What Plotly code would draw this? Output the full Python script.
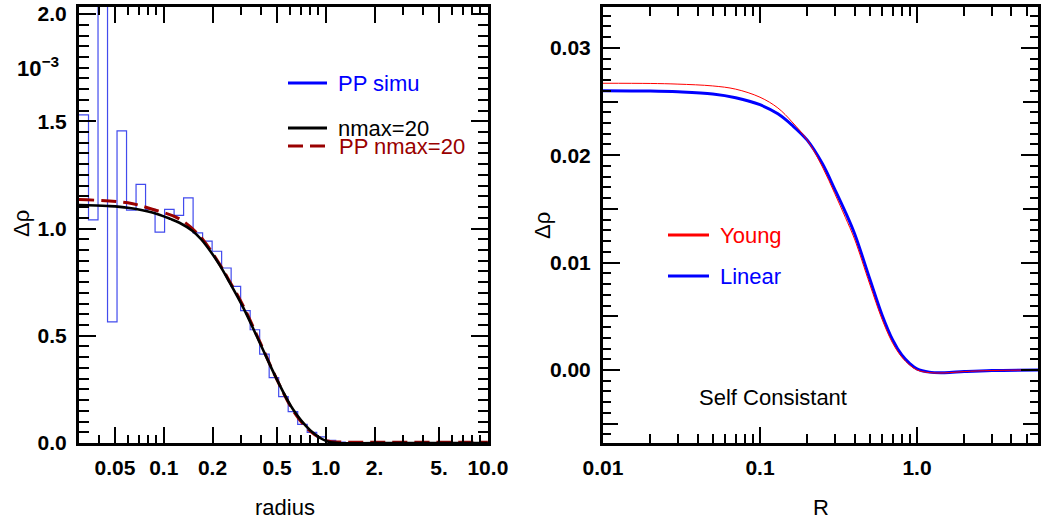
import numpy as np
import plotly.graph_objects as go

# ---------------- data : left panel (units of 1e-3) ----------------
hist_lo, hist_hi, hist_nbins = 0.03, 10.0, 43
hist_values = [1.53, 1.04, 2.6, 0.565, 1.455, 1.086, 1.206, 1.089, 0.983, 1.089,
               1.061, 1.143, 0.980, 0.941, 0.894, 0.816, 0.730, 0.617, 0.528, 0.414,
               0.305, 0.216, 0.146, 0.087, 0.050, 0.029, 0.012, 0.004,
               0.0, 0.0, 0.0, 0.0, 0.0, 0.0, 0.0, 0.0, 0.0, 0.0, 0.0, 0.0, 0.0, 0.0, 0.0]

nmax_r = [0.03, 0.045, 0.06, 0.085, 0.11, 0.125, 0.15, 0.17, 0.2, 0.222, 0.25, 0.31,
          0.39, 0.5, 0.63, 0.8, 1.0, 1.2, 2.0, 5.0, 10.0]
nmax_v = [1.110, 1.105, 1.097, 1.075, 1.045, 1.027, 0.990, 0.950, 0.880, 0.828, 0.760,
          0.630, 0.470, 0.295, 0.155, 0.060, 0.010, 0.0, 0.0, 0.0, 0.0]

ppn_r = [0.03, 0.06, 0.085, 0.125, 0.167, 0.222, 0.25, 0.31, 0.39, 0.5, 0.63, 0.8,
         1.0, 1.3, 2.0, 5.0, 10.0]
ppn_v = [1.135, 1.120, 1.090, 1.045, 0.965, 0.832, 0.765, 0.638, 0.475, 0.295, 0.150,
         0.055, 0.012, 0.004, 0.004, 0.004, 0.004]

# ---------------- data : right panel ----------------
R_vals = [0.01, 0.02, 0.03, 0.05, 0.07, 0.1, 0.13, 0.16, 0.2, 0.25, 0.3, 0.35, 0.4,
          0.5, 0.6, 0.7, 0.8, 0.9, 1.0, 1.2, 1.5, 2.0, 3.0, 6.0]
linear_v = [0.02600, 0.02597, 0.02590, 0.02570, 0.02535, 0.02470, 0.02385, 0.02280,
            0.02140, 0.01920, 0.01680, 0.01470, 0.01270, 0.00850, 0.00510, 0.00280,
            0.00140, 0.00060, 0.00010, -0.00020, -0.00025, -0.00015, -0.00005, 0.0]
young_v = [0.02670, 0.02668, 0.02662, 0.02645, 0.02615, 0.02540, 0.02440, 0.02310,
           0.02140, 0.01890, 0.01640, 0.01420, 0.01220, 0.00800, 0.00470, 0.00250,
           0.00120, 0.00045, 0.00000, -0.00025, -0.00027, -0.00015, -0.00005, 0.0]

# tick labels
left_xticks = [0.05, 0.1, 0.2, 0.5, 1.0, 2.0, 5.0, 10.0]
left_xtext = ["0.05", "0.1", "0.2", "0.5", "1.0", "2.", "5.", "10.0"]
left_yticks = [0.0, 0.5, 1.0, 1.5, 2.0]
left_ytext = ["0.0", "0.5", "1.0", "1.5", "2.0"]
right_xticks = [0.01, 0.1, 1.0]
right_xtext = ["0.01", "0.1", "1.0"]
right_yticks = [0.0, 0.01, 0.02, 0.03]
right_ytext = ["0.00", "0.01", "0.02", "0.03"]
right_ymid = [-0.005, 0.005, 0.015, 0.025]

# ---------------- figure ----------------
W, H = 1053, 523
FONT = "Liberation Sans, Arial, Helvetica, sans-serif"


def px(x):
    return x / W


def py(y):
    return 1 - y / H


edges = np.logspace(np.log10(hist_lo), np.log10(hist_hi), hist_nbins + 1)
hist_y = list(hist_values) + [hist_values[-1]]

fig = go.Figure()
fig.add_trace(go.Scatter(x=edges, y=hist_y, mode="lines", line_shape="hv",
                         line=dict(color="rgba(45,55,235,0.9)", width=1.2),
                         name="PP simu", xaxis="x", yaxis="y", showlegend=False))
fig.add_trace(go.Scatter(x=ppn_r, y=ppn_v, mode="lines", line_shape="spline",
                         line=dict(color="#990000", width=3, dash="15px,7px"),
                         name="PP nmax=20", xaxis="x", yaxis="y", showlegend=False))
fig.add_trace(go.Scatter(x=nmax_r, y=nmax_v, mode="lines", line_shape="spline",
                         line=dict(color="black", width=2.6),
                         name="nmax=20", xaxis="x", yaxis="y", showlegend=False))

fig.add_trace(go.Scatter(x=R_vals, y=linear_v, mode="lines", line_shape="spline",
                         line=dict(color="#0000ff", width=3),
                         name="Linear", xaxis="x2", yaxis="y2", showlegend=False))
fig.add_trace(go.Scatter(x=R_vals, y=young_v, mode="lines", line_shape="spline",
                         line=dict(color="#ff0000", width=1),
                         name="Young", xaxis="x2", yaxis="y2", showlegend=False))

ydom = [py(443), py(7)]
common = dict(showline=True, linecolor="black", linewidth=3, mirror="ticks",
              ticks="inside", tickcolor="black", tickwidth=2, showgrid=False,
              zeroline=False, automargin=False,
              tickfont=dict(family=FONT, size=21, color="black", weight="bold"))

left_xminor = [0.03, 0.04, 0.06, 0.07, 0.08, 0.09,
               0.3, 0.4, 0.6, 0.7, 0.8, 0.9,
               3, 4, 6, 7, 8, 9]
right_xminor = [0.02, 0.03, 0.04, 0.05, 0.06, 0.07, 0.08, 0.09,
                0.2, 0.3, 0.4, 0.5, 0.6, 0.7, 0.8, 0.9, 2, 3, 4, 5]
left_yminor = [round(0.05 * i, 3) for i in range(41) if i % 10 != 0]
right_yminor = [round(-0.006 + 0.001 * i, 4) for i in range(40) if (i - 6) % 5 != 0]

fig.update_layout(
    template="none",
    width=W, height=H, margin=dict(l=0, r=0, t=0, b=0, autoexpand=False),
    paper_bgcolor="white", plot_bgcolor="white", showlegend=False,
    font=dict(family=FONT, color="black"),
    xaxis=dict(common, type="log", domain=[px(79), px(488)],
               range=[np.log10(0.03), np.log10(10.0) + 0.0008],
               tickmode="array", tickvals=left_xticks, ticktext=left_xtext,
               ticklen=16, ticklabelstandoff=4,
               minor=dict(tickmode="array", tickvals=left_xminor, ticks="inside",
                          ticklen=8, tickwidth=1.5, tickcolor="black"),
               anchor="y"),
    yaxis=dict(common, domain=ydom, range=[0, 2.033],
               tickmode="array", tickvals=left_yticks, ticktext=left_ytext,
               ticklen=17, ticklabelstandoff=5,
               minor=dict(tickmode="array", tickvals=left_yminor, ticks="inside",
                          ticklen=10, tickwidth=1.5, tickcolor="black"),
               anchor="x"),
    xaxis2=dict(common, type="log", domain=[px(603), px(1038)],
                range=[-2.0, 0.771],
                tickmode="array", tickvals=right_xticks, ticktext=right_xtext,
                ticklen=16, ticklabelstandoff=4,
                minor=dict(tickmode="array", tickvals=right_xminor, ticks="inside",
                           ticklen=9, tickwidth=1.5, tickcolor="black"),
                anchor="y2"),
    yaxis2=dict(common, domain=ydom, range=[-0.0068, 0.0338],
                tickmode="array", tickvals=right_yticks, ticktext=right_ytext,
                ticklen=17, ticklabelstandoff=5,
                minor=dict(tickmode="array", tickvals=right_yminor, ticks="inside",
                           ticklen=8, tickwidth=1.5, tickcolor="black"),
                anchor="x2"),
    # overlay axis carrying only the medium (half-decade) ticks of the right y axis
    yaxis3=dict(overlaying="y2", domain=ydom, range=[-0.0068, 0.0338],
                showline=False, showgrid=False, zeroline=False, automargin=False,
                ticks="inside", ticklen=15, tickwidth=2, tickcolor="black",
                mirror="ticks", showticklabels=False, anchor="x2",
                tickmode="array", tickvals=right_ymid),
)
# invisible trace so the overlay axis is drawn
fig.add_trace(go.Scatter(x=[R_vals[0]], y=[linear_v[0]], mode="lines",
                         xaxis="x2", yaxis="y3", showlegend=False,
                         line=dict(width=0), hoverinfo="skip"))

ann = []


def text(x, y, s, size=22, color="black", xanchor="center", angle=0, bold=False):
    ann.append(dict(x=px(x), y=py(y), xref="paper", yref="paper", text=s,
                    showarrow=False, xanchor=xanchor, yanchor="middle",
                    textangle=angle,
                    font=dict(family=FONT, size=size, color=color,
                              weight="bold" if bold else "normal")))


# axis titles
text(285, 507, "radius")
text(821, 507, "R")
text(22, 224, "Δρ", angle=-90)
text(543, 226, "Δρ", angle=-90)
# exponent label
text(38, 67, "10<sup>−3</sup>", size=22, bold=True)
# left legend
text(336, 83, "PP simu", color="#0000ff", xanchor="left")
text(336, 128, "nmax=20", color="black", xanchor="left")
text(337, 147, "PP nmax=20", color="#990000", xanchor="left")
# right legend
text(718, 235, "Young", color="#ff0000", xanchor="left")
text(718, 276, "Linear", color="#0000ff", xanchor="left")
text(697, 397, "Self Consistant", size=22, xanchor="left")
fig.update_layout(annotations=ann)

shapes = []


def key(x0, x1, y, color, width, dash="solid"):
    shapes.append(dict(type="line", xref="paper", yref="paper",
                       x0=px(x0), x1=px(x1), y0=py(y), y1=py(y),
                       line=dict(color=color, width=width, dash=dash)))


key(288, 327, 83, "#0000ff", 3)
key(288, 327, 128, "black", 3)
key(288, 327, 146, "#990000", 3, "15px,7px")
key(668, 709, 235, "#ff0000", 3)
key(668, 709, 276, "#0000ff", 3)
fig.update_layout(shapes=shapes)

fig.write_html(
    "out.html",
    config={"displayModeBar": False, "responsive": False},
    post_script="document.body.style.margin='0';document.body.style.padding='0';"
                "document.body.style.overflow='hidden';",
)
